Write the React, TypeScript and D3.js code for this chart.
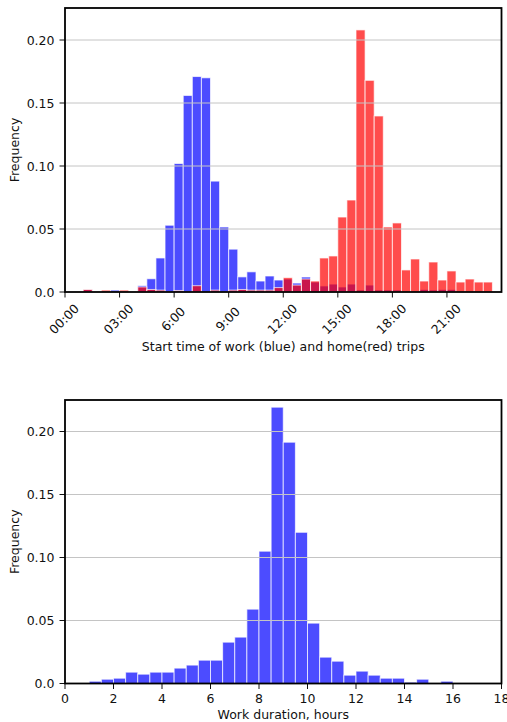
import * as d3 from 'd3';

// half-hour bins, 00:00 .. 24:00
const startBinWidth = 0.5;
const workStart = [
  0, 0, 0.002, 0, 0, 0.0015, 0, 0, 0.005, 0.0105, 0.027, 0.053, 0.102, 0.156, 0.171, 0.17,
  0.088, 0.0516, 0.034, 0.012, 0.016, 0.0087, 0.0127, 0.0095, 0.0103, 0.0071, 0.0119, 0.0079,
  0.0048, 0.0063, 0.004, 0.0063, 0.0016, 0.0055, 0.0016, 0.0016, 0.0016, 0, 0, 0.002, 0.0016,
  0.002, 0.002, 0, 0, 0, 0, 0,
];
const homeStart = [
  0, 0, 0.002, 0, 0.0015, 0, 0.0015, 0, 0.004, 0.002, 0.0015, 0, 0.0012, 0, 0.005, 0,
  0.0015, 0, 0.0015, 0.002, 0.0015, 0.0015, 0.0015, 0.0035, 0.0114, 0.0055, 0.0103, 0.0087,
  0.027, 0.0286, 0.0595, 0.073, 0.208, 0.168, 0.1397, 0.0516, 0.0548, 0.0175, 0.0262, 0.0087,
  0.0238, 0.0095, 0.0167, 0.0079, 0.0103, 0.0079, 0.0079, 0,
];
const startTicks = [0, 3, 6, 9, 12, 15, 18, 21];
const startTickLabels = ['00:00', '03:00', '6:00', '9:00', '12:00', '15:00', '18:00', '21:00'];

// half-hour bins, 0 .. 18 hours
const durationBinWidth = 0.5;
const workDuration = [
  0, 0, 0.0018, 0.0034, 0.0042, 0.009, 0.0074, 0.009, 0.009, 0.0122, 0.0146, 0.0185, 0.0185,
  0.0328, 0.0368, 0.059, 0.105, 0.2193, 0.1915, 0.12, 0.0479, 0.0209, 0.0177, 0.0066, 0.0098,
  0.0066, 0.0042, 0.0042, 0.001, 0.0034, 0, 0.0018, 0, 0, 0, 0,
];
const durationTicks = [0, 2, 4, 6, 8, 10, 12, 14, 16, 18];

const yTicks = [0, 0.05, 0.1, 0.15, 0.2];
const yTickLabels = ['0.0', '0.05', '0.10', '0.15', '0.20'];

const FONT = 'DejaVu Sans, sans-serif';
const FS = 12.5;
const INK = '#111';

type Series = { values: number[]; color: string };

function Panel({
  top,
  bottom,
  yMax,
  xMax,
  binWidth,
  series,
  xTicks,
  xTickLabels,
  rotated,
  xLabel,
  xLabelY,
}: {
  top: number;
  bottom: number;
  yMax: number;
  xMax: number;
  binWidth: number;
  series: Series[];
  xTicks: number[];
  xTickLabels: string[];
  rotated: boolean;
  xLabel: string;
  xLabelY: number;
}) {
  const left = 65;
  const right = 501.5;
  const x = d3.scaleLinear().domain([0, xMax]).range([left, right]);
  const y = d3.scaleLinear().domain([0, yMax]).range([bottom, top]);

  return (
    <g>
      {series.map((s, si) => (
        <g key={si}>
          {s.values.map((v, i) =>
            v > 0 ? (
              <rect
                key={i}
                x={x(i * binWidth)}
                width={x((i + 1) * binWidth) - x(i * binWidth)}
                y={y(v)}
                height={bottom - y(v)}
                fill={s.color}
                fillOpacity={0.7}
                stroke="white"
                strokeOpacity={0.7}
                strokeWidth={1}
              />
            ) : null
          )}
        </g>
      ))}

      {/* grid */}
      {yTicks.slice(1).map((t) => (
        <line key={t} x1={left} x2={right} y1={y(t)} y2={y(t)} stroke="#c4c4c4" strokeWidth={1} />
      ))}

      {/* y ticks */}
      {yTicks.map((t, i) => (
        <g key={t}>
          <line x1={left - 5.5} x2={left} y1={y(t)} y2={y(t)} stroke={INK} strokeWidth={1} />
          <text
            x={left - 10.5}
            y={y(t)}
            textAnchor="end"
            dominantBaseline="central"
            fontFamily={FONT}
            fontSize={FS}
            fill={INK}
          >
            {yTickLabels[i]}
          </text>
        </g>
      ))}

      {/* x ticks */}
      {xTicks.map((t, i) => (
        <g key={t}>
          <line x1={x(t)} x2={x(t)} y1={bottom} y2={bottom + 5.5} stroke={INK} strokeWidth={1} />
          {rotated ? (
            <text
              transform={`translate(${x(t) - 1},${bottom + 27}) rotate(-45)`}
              textAnchor="middle"
              dominantBaseline="central"
              fontFamily={FONT}
              fontSize={FS}
              fill={INK}
            >
              {xTickLabels[i]}
            </text>
          ) : (
            <text
              x={x(t)}
              y={bottom + 19.5}
              textAnchor="middle"
              fontFamily={FONT}
              fontSize={FS}
              fill={INK}
            >
              {xTickLabels[i]}
            </text>
          )}
        </g>
      ))}

      <rect
        x={left}
        y={top}
        width={right - left}
        height={bottom - top}
        fill="none"
        stroke="black"
        strokeWidth={1.8}
      />

      <text
        x={(left + right) / 2}
        y={xLabelY}
        textAnchor="middle"
        fontFamily={FONT}
        fontSize={FS}
        fill={INK}
      >
        {xLabel}
      </text>
      <text
        transform={`translate(14,${(top + bottom) / 2}) rotate(-90)`}
        textAnchor="middle"
        dominantBaseline="central"
        fontFamily={FONT}
        fontSize={FS}
        fill={INK}
      >
        Frequency
      </text>
    </g>
  );
}

export default function App() {
  return (
    <svg
      width={507}
      height={722}
      style={{ position: 'absolute', left: 0, top: 0, display: 'block', background: 'white' }}
    >
      <Panel
        top={8}
        bottom={292}
        yMax={0.2254}
        xMax={24}
        binWidth={startBinWidth}
        series={[
          { values: workStart, color: 'blue' },
          { values: homeStart, color: 'red' },
        ]}
        xTicks={startTicks}
        xTickLabels={startTickLabels}
        rotated={true}
        xLabel="Start time of work (blue) and home(red) trips"
        xLabelY={351}
      />
      <Panel
        top={400}
        bottom={683.5}
        yMax={0.225}
        xMax={18}
        binWidth={durationBinWidth}
        series={[{ values: workDuration, color: 'blue' }]}
        xTicks={durationTicks}
        xTickLabels={durationTicks.map(String)}
        rotated={false}
        xLabel="Work duration, hours"
        xLabelY={718.5}
      />
    </svg>
  );
}
